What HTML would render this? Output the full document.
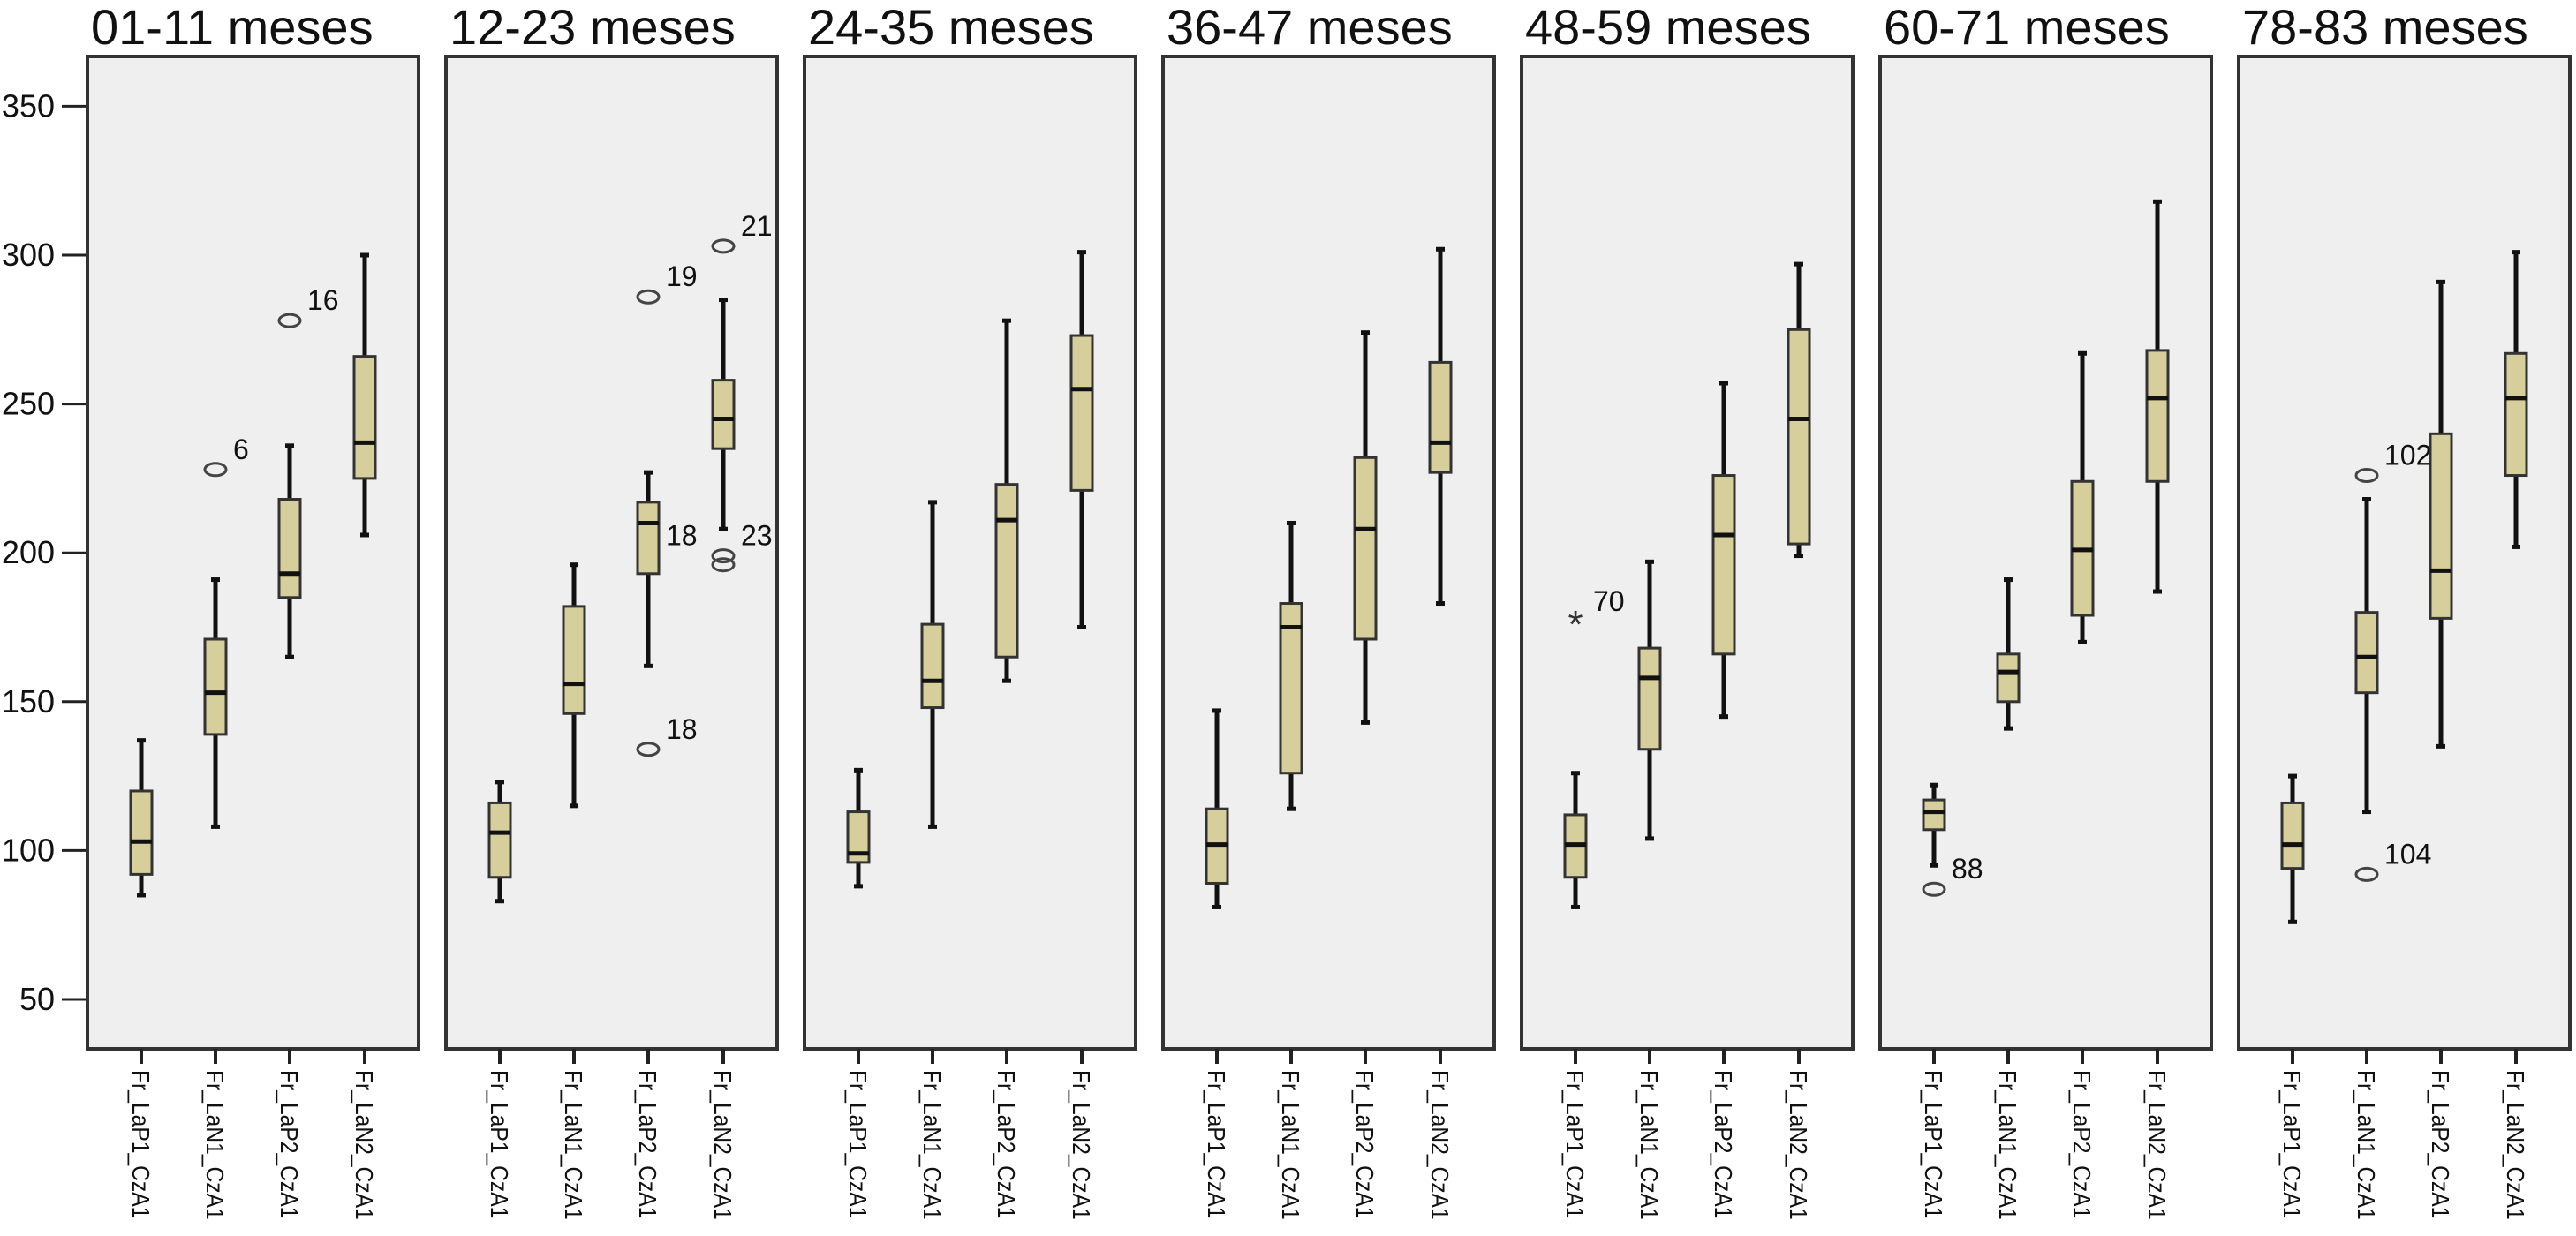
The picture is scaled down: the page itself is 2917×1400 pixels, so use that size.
<!DOCTYPE html>
<html><head><meta charset="utf-8"><style>
html,body{margin:0;padding:0;background:#fff;}
svg{display:block;font-family:"Liberation Sans",Arial,sans-serif;}
</style></head><body>
<svg id="chart" width="2917" height="1400" viewBox="0 0 2917 1400" xmlns="http://www.w3.org/2000/svg"></svg>
<script>
const panels = ["01-11 meses","12-23 meses","24-35 meses","36-47 meses","48-59 meses","60-71 meses","78-83 meses"];
const categories = ["Fr_LaP1_CzA1","Fr_LaN1_CzA1","Fr_LaP2_CzA1","Fr_LaN2_CzA1"];
const yTicks = [50,100,150,200,250,300,350];
// [min, q1, median, q3, max] per panel per category
const stats = [
 [[85,92,103,120,137],[108,139,153,171,191],[165,185,193,218,236],[206,225,237,266,300]],
 [[83,91,106,116,123],[115,146,156,182,196],[162,193,210,217,227],[208,235,245,258,285]],
 [[88,96,99,113,127],[108,148,157,176,217],[157,165,211,223,278],[175,221,255,273,301]],
 [[81,89,102,114,147],[114,126,175,183,210],[143,171,208,232,274],[183,227,237,264,302]],
 [[81,91,102,112,126],[104,134,158,168,197],[145,166,206,226,257],[199,203,245,275,297]],
 [[95,107,113,117,122],[141,150,160,166,191],[170,179,201,224,267],[187,224,252,268,318]],
 [[76,94,102,116,125],[113,153,165,180,218],[135,178,194,240,291],[202,226,252,267,301]]
];
// outliers: [panel, category, value, label, kind]
const outliers = [
 [0,1,228,"6","o"],[0,2,278,"16","o"],
 [1,2,286,"19","o"],[1,2,134,"18","o"],[1,2,205,"18","n"],[1,3,303,"21","o"],[1,3,199,"23","o"],[1,3,196,"","o"],
 [4,0,177,"70","*"],
 [5,0,87,"88","o"],
 [6,1,226,"102","o"],[6,1,92,"104","o"]
];
const NS="http://www.w3.org/2000/svg";
const svg=document.getElementById('chart');
const PL=99, PW=375, STEP=406, PT=64, PB=1188;
const catOff=[61,145,229,314];
function y(v){return 1132-(v-50)*3.372;}
function px(p){return PL+p*STEP;}
function cx(p,c){return px(p)+catOff[c];}
function mk(tag,attrs,parent){const e=document.createElementNS(NS,tag);for(const k in attrs)e.setAttribute(k,attrs[k]);(parent||svg).appendChild(e);return e;}

yTicks.forEach(t=>{
  const ln=mk('line',{x1:70,x2:PL,y1:y(t),y2:y(t),stroke:'#222','stroke-width':3});
  
  
  const tx=mk('text',{x:62,y:y(t)+12,'text-anchor':'end','font-size':36,fill:'#111'});
  tx.textContent=t;
  
  
});

panels.forEach((name,p)=>{
  const g=mk('g',{});
  
  
  const r=mk('rect',{x:px(p),y:PT,width:PW,height:PB-PT,fill:'#efefef',stroke:'#333','stroke-width':4},g);
  
  
  const t=mk('text',{x:px(p)+4,y:50,'font-size':56,fill:'#111'},g);
  t.textContent=name;
  
  
  categories.forEach((cat,c)=>{
    const x=cx(p,c), s=stats[p][c];
    const tk=mk('line',{x1:x,x2:x,y1:PB,y2:1205,stroke:'#222','stroke-width':4},g);
    
    
    const lb=mk('text',{x:0,y:0,'font-size':28,fill:'#111',transform:`translate(${x-10},1212) rotate(90) scale(0.88,1)`},g);
    lb.textContent=cat;
    
    
    const bg=mk('g',{},g);
    
    
    mk('line',{x1:x,x2:x,y1:y(s[0]),y2:y(s[4]),stroke:'#111','stroke-width':5},bg);
    mk('line',{x1:x-5,x2:x+5,y1:y(s[0]),y2:y(s[0]),stroke:'#111','stroke-width':5},bg);
    mk('line',{x1:x-5,x2:x+5,y1:y(s[4]),y2:y(s[4]),stroke:'#111','stroke-width':5},bg);
    mk('rect',{x:x-12,y:y(s[3]),width:24,height:y(s[1])-y(s[3]),fill:'#d6cf9c',stroke:'#333','stroke-width':3},bg);
    mk('line',{x1:x-12,x2:x+12,y1:y(s[2]),y2:y(s[2]),stroke:'#111','stroke-width':5},bg);
  });
});

outliers.forEach(o=>{
  const [p,c,v,lab,kind]=o;
  const x=cx(p,c), yy=y(v);
  if(kind==='o'){
    const e=mk('ellipse',{cx:x,cy:yy,rx:12,ry:7,fill:'none',stroke:'#444','stroke-width':3});
    
    
  } else if(kind==='*'){
    const e=mk('text',{x:x,y:yy+18,'text-anchor':'middle','font-size':44,fill:'#333'});
    e.textContent='*';
    
    
  }
  if(lab){
    const dx = 20, dy = kind==='n'?8:-12;
    const t=mk('text',{x:x+dx,y:yy+dy,'font-size':32,fill:'#111'});
    t.textContent=lab;
    
    
  }
});
</script>
</body></html>
